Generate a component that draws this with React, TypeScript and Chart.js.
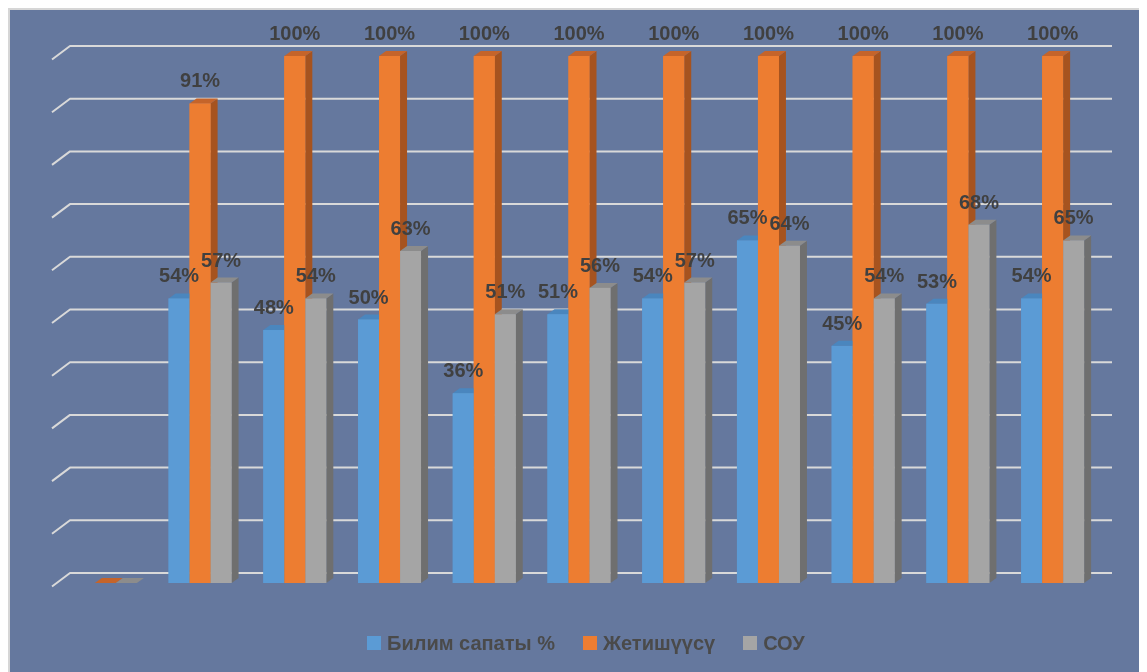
import React, { useEffect, useRef } from "react";
import { Chart, registerables } from "chart.js";

Chart.register(...registerables);

// ---- data ----
const categories = ["", "1", "2", "3", "4", "5", "6", "7", "8", "9", "10"];
const bilimSapaty = [null, 54, 48, 50, 36, 51, 54, 65, 45, 53, 54];
const jetishuusu = [0, 91, 100, 100, 100, 100, 100, 100, 100, 100, 100];
const sou = [0, 57, 54, 63, 51, 56, 57, 64, 54, 68, 65];
const seriesNames = ["Билим сапаты %", "Жетишүүсү", "СОУ"];
const yTicks = [0, 10, 20, 30, 40, 50, 60, 70, 80, 90, 100];

// ---- styles ----
const FRONT = ["#5b9bd5", "#ed7d31", "#a5a5a5"];
const SIDE = ["#41719c", "#a6531f", "#6f6f6f"];
const TOP = ["#4a86be", "#c5642a", "#8c8c8c"];
const BG = "#65789e";
const LABEL_COLOR = "#404040";
const FONT = '"Liberation Sans", Arial, sans-serif';
const DX = 7;
const DY = 5;

const grid3d = {
  id: "grid3d",
  beforeDatasetsDraw(chart: any) {
    const { ctx, chartArea, scales } = chart;
    const y = scales.y;
    ctx.save();
    ctx.strokeStyle = "#d9d9d9";
    ctx.lineWidth = 2;
    ctx.lineJoin = "round";
    for (const v of yTicks) {
      const yb = y.getPixelForValue(v) - 10;
      ctx.beginPath();
      ctx.moveTo(chartArea.left - 6, yb + 13.5);
      ctx.lineTo(chartArea.left + 12, yb);
      ctx.lineTo(chartArea.right + 12, yb);
      ctx.stroke();
    }
    ctx.restore();
  },
};

// Redraws each bar as a 3D block, dataset by dataset in index order,
// so that the right-hand series sits in front (as in the Excel 3D chart).
const bar3d = {
  id: "bar3d",
  afterDatasetsDraw(chart: any) {
    const { ctx } = chart;
    chart.data.datasets.forEach((ds: any, idx: number) => {
      const meta = chart.getDatasetMeta(idx);
      meta.data.forEach((el: any, i: number) => {
        const v = ds.data[i];
        if (v === null || v === undefined) return;
        const { x, y, base, width } = el.getProps(["x", "y", "base", "width"], true);
        const x0 = x - width / 2;
        const x1 = x + width / 2;
        ctx.save();
        ctx.fillStyle = SIDE[idx];
        ctx.beginPath();
        ctx.moveTo(x1, y);
        ctx.lineTo(x1 + DX, y - DY);
        ctx.lineTo(x1 + DX, base - DY);
        ctx.lineTo(x1, base);
        ctx.closePath();
        ctx.fill();
        ctx.fillStyle = TOP[idx];
        ctx.beginPath();
        ctx.moveTo(x0, y);
        ctx.lineTo(x1, y);
        ctx.lineTo(x1 + DX, y - DY);
        ctx.lineTo(x0 + DX, y - DY);
        ctx.closePath();
        ctx.fill();
        ctx.fillStyle = FRONT[idx];
        ctx.fillRect(x0, y, x1 - x0, base - y);
        ctx.restore();
      });
    });
  },
};

const labels3d = {
  id: "labels3d",
  afterDatasetsDraw(chart: any) {
    const { ctx } = chart;
    ctx.save();
    ctx.font = `bold 20px ${FONT}`;
    ctx.fillStyle = LABEL_COLOR;
    ctx.textAlign = "center";
    ctx.textBaseline = "alphabetic";
    chart.data.datasets.forEach((ds: any, di: number) => {
      const meta = chart.getDatasetMeta(di);
      meta.data.forEach((el: any, i: number) => {
        const v = ds.data[i];
        if (v === null || v === undefined || v === 0) return;
        const { x, y } = el.getProps(["x", "y"], true);
        ctx.fillText(`${v}%`, x, y - 16);
      });
    });
    ctx.restore();
  },
};

export default function App() {
  const ref = useRef<HTMLCanvasElement | null>(null);

  useEffect(() => {
    document.documentElement.style.overflow = "hidden";
    document.body.style.overflow = "hidden";
    const canvas = ref.current;
    if (!canvas) return;
    const data = [bilimSapaty, jetishuusu, sou];
    const chart = new Chart(canvas, {
      type: "bar",
      data: {
        labels: categories,
        datasets: data.map((d, i) => ({
          label: seriesNames[i],
          data: d as any,
          backgroundColor: FRONT[i],
          borderWidth: 0,
          categoryPercentage: 0.665,
          barPercentage: 1.0,
          clip: false as any,
        })),
      },
      options: {
        animation: false,
        responsive: false,
        devicePixelRatio: 1,
        layout: { padding: { left: 48, right: 47, top: 46, bottom: 89 } },
        plugins: {
          legend: { display: false },
          tooltip: { enabled: false },
        },
        scales: {
          x: { display: false, grid: { display: false } },
          y: {
            display: false,
            min: 0,
            max: 100,
            ticks: { stepSize: 10 },
            grid: { display: false },
          },
        },
      },
      plugins: [grid3d, bar3d, labels3d],
    });
    return () => chart.destroy();
  }, []);

  return (
    <div
      style={{
        position: "relative",
        width: 1141,
        height: 666,
        boxSizing: "border-box",
        border: "2px solid #d6d6d6",
        background: BG,
        overflow: "hidden",
      }}
    >
      <canvas
        ref={ref}
        width={1137}
        height={662}
        style={{ position: "absolute", left: 0, top: 0, width: 1137, height: 662 }}
      />
      <div
        style={{
          position: "absolute",
          left: 357,
          top: 623,
          display: "flex",
          alignItems: "center",
          height: 20,
          fontFamily: FONT,
          fontWeight: "bold",
          fontSize: 20,
          lineHeight: "20px",
          color: "#4a4a4a",
          whiteSpace: "nowrap",
        }}
      >
        {seriesNames.map((name, i) => (
          <div
            key={name}
            style={{ display: "flex", alignItems: "center", marginRight: i < 2 ? 28 : 0 }}
          >
            <span
              style={{ display: "inline-block", width: 14, height: 14, background: FRONT[i], marginRight: 6 }}
            />
            <span>{name}</span>
          </div>
        ))}
      </div>
    </div>
  );
}
